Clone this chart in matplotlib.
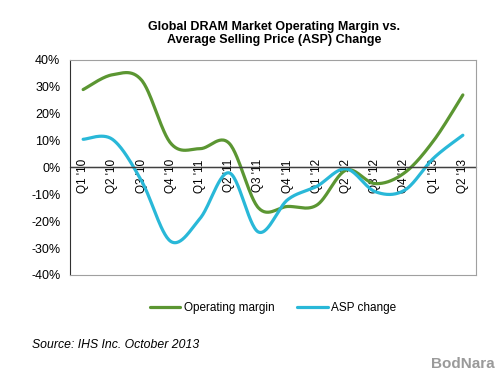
import numpy as np
import matplotlib
matplotlib.use("Agg")
import matplotlib.pyplot as plt

plt.rcParams['font.family'] = ['Liberation Sans', 'DejaVu Sans']

quarters = ["Q1 '10", "Q2 '10", "Q3 '10", "Q4 '10", "Q1 '11", "Q2 '11", "Q3 '11",
            "Q4 '11", "Q1 '12", "Q2 '12", "Q3 '12", "Q4 '12", "Q1 '13", "Q2 '13"]
op_margin = [29, 34.5, 32.5, 9, 7, 9, -15, -14.5, -14, -1, -6, -2, 10, 27]
asp_change = [10.5, 10.5, -5, -27.5, -19, -2, -24, -12, -7, -0.5, -9, -8.5, 3.5, 12]

GREEN = '#5b9632'
CYAN = '#29b8d8'


def smooth(y, n=30):
    # excel-like smoothed line (catmull-rom)
    y = np.asarray(y, float)
    x = np.arange(len(y), dtype=float)
    pts = np.column_stack([x, y])
    p = np.vstack([pts[0], pts, pts[-1]])
    out = []
    t = np.linspace(0, 1, n, endpoint=False)[:, None]
    for i in range(1, len(p) - 2):
        p0, p1, p2, p3 = p[i - 1], p[i], p[i + 1], p[i + 2]
        c1 = p1 + (p2 - p0) / 6
        c2 = p2 - (p3 - p1) / 6
        seg = ((1 - t) ** 3) * p1 + 3 * ((1 - t) ** 2) * t * c1 + 3 * (1 - t) * t ** 2 * c2 + t ** 3 * p2
        out.append(seg)
    out.append(pts[-1][None, :])
    out = np.vstack(out)
    return out[:, 0], out[:, 1]


fig = plt.figure(figsize=(5, 3.75), dpi=100)
ax = fig.add_axes([0.14, 0.2667, 0.812, 0.5733])

xs, ys = smooth(op_margin)
ax.plot(xs, ys, color=GREEN, lw=2.3, label='Operating margin', solid_capstyle='round')
xs, ys = smooth(asp_change)
ax.plot(xs, ys, color=CYAN, lw=2.3, label='ASP change', solid_capstyle='round')

ax.axhline(0, color='#404040', lw=1)
ax.set_xlim(-0.45, len(quarters) - 0.55)
ax.set_ylim(-40, 40)
ax.set_yticks(range(-40, 41, 10))
ax.set_yticklabels([f'{v}%' for v in range(-40, 41, 10)])
ax.tick_params(axis='y', length=0, pad=7, labelsize=9)
ax.set_xticks([])

for s in ['top', 'right', 'bottom']:
    ax.spines[s].set_color('#a0a0a0')
ax.spines['left'].set_color('#303030')

# category labels sit next to the zero line
sec = ax.secondary_xaxis(0.5)
sec.set_xticks(range(len(quarters)))
sec.set_xticklabels(quarters, rotation=90, va='top', ha='center')
sec.tick_params(length=0, pad=6, labelsize=8.5)
sec.spines['bottom'].set_visible(False)

fig.text(0.548, 0.945, 'Global DRAM Market Operating Margin vs.\nAverage Selling Price (ASP) Change',
         ha='center', va='top', fontsize=9, fontweight='bold', linespacing=1.2)

ax.legend(loc='upper center', bbox_to_anchor=(0.5, -0.075), ncol=2, frameon=False,
          fontsize=8.5, handlelength=2.6, handletextpad=0.3, columnspacing=1.9)

fig.text(0.064, 0.072, 'Source: IHS Inc. October 2013', fontsize=8.8, style='italic')
fig.text(0.99, 0.01, 'BodNara', fontsize=11, fontweight='bold', color='#9a9a9a', ha='right', va='bottom')

fig.savefig('out.png', dpi=100)
